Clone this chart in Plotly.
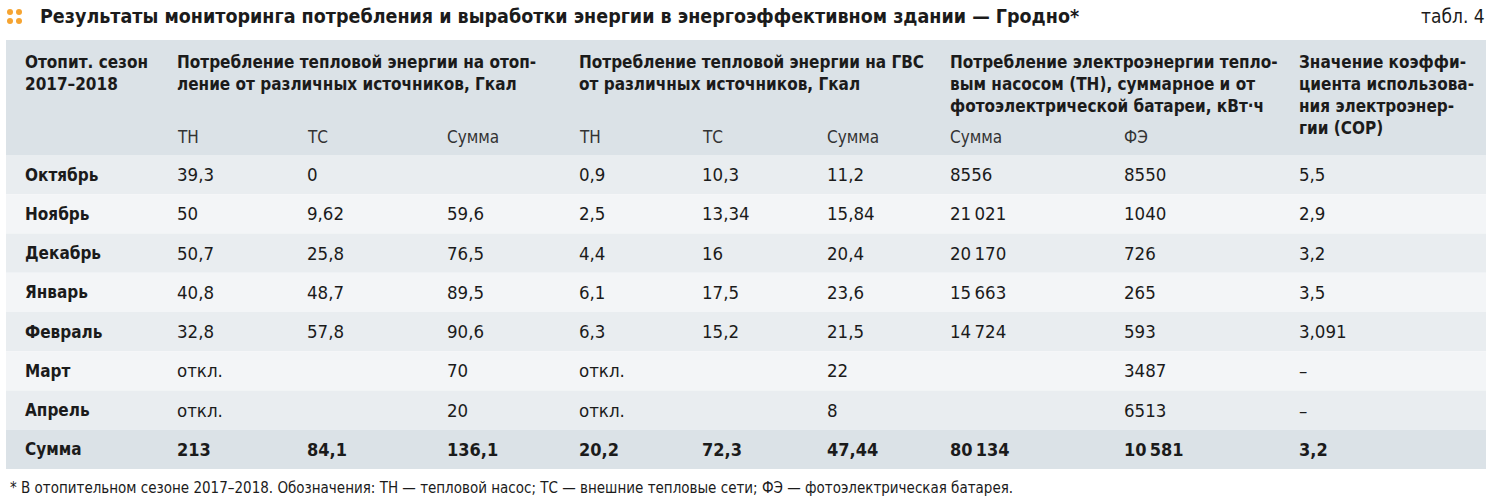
import plotly.graph_objects as go

# ---------------- data ----------------
title = "Результаты мониторинга потребления и выработки энергии в энергоэффективном здании — Гродно*"
table_no = "табл. 4"
footnote = ("* В отопительном сезоне 2017–2018. Обозначения: ТН — тепловой насос; "
            "ТС — внешние тепловые сети; ФЭ — фотоэлектрическая батарея.")

group_headers = [
    "Отопит. сезон<br>2017–2018",
    "Потребление тепловой энергии на отоп-<br>ление от различных источников, Гкал",
    "Потребление тепловой энергии на ГВС<br>от различных источников, Гкал",
    "Потребление электроэнергии тепло-<br>вым насосом (ТН), суммарное и от<br>фотоэлектрической батареи, кВт·ч",
    "Значение коэффи-<br>циента использова-<br>ния электроэнер-<br>гии (COP)",
]
sub_headers = ["", "ТН", "ТС", "Сумма", "ТН", "ТС", "Сумма", "Сумма", "ФЭ", ""]

months = ["Октябрь", "Ноябрь", "Декабрь", "Январь", "Февраль", "Март", "Апрель"]
heat_tn = ["39,3", "50", "50,7", "40,8", "32,8", "откл.", "откл."]
heat_ts = ["0", "9,62", "25,8", "48,7", "57,8", "", ""]
heat_sum = ["", "59,6", "76,5", "89,5", "90,6", "70", "20"]
dhw_tn = ["0,9", "2,5", "4,4", "6,1", "6,3", "откл.", "откл."]
dhw_ts = ["10,3", "13,34", "16", "17,5", "15,2", "", ""]
dhw_sum = ["11,2", "15,84", "20,4", "23,6", "21,5", "22", "8"]
el_sum = ["8556", "21\u2009021", "20\u2009170", "15\u2009663", "14\u2009724", "", ""]
el_pv = ["8550", "1040", "726", "265", "593", "3487", "6513"]
cop = ["5,5", "2,9", "3,2", "3,5", "3,091", "–", "–"]
totals = ["Сумма", "213", "84,1", "136,1", "20,2", "72,3", "47,44", "80\u2009134", "10\u2009581", "3,2"]

# ---------------- layout constants ----------------
W, H = 1492, 503
FONT = "DejaVu Sans Condensed, Liberation Sans Narrow, Roboto, sans-serif"
INK = "#1b1b1b"
HEAD_BG = "#dbe2e7"
ODD_BG = "#e9edf0"
EVEN_BG = "#f3f5f7"
ORANGE = "#f6a431"

col_x = [23, 175, 305, 445, 577, 700, 825, 948, 1122, 1297]
group_x = [23, 175, 577, 948, 1297]
tbl_left, tbl_right = 6, 1486
head_top, head_bot = 40, 155
row_h = 39.25

columns = [months, heat_tn, heat_ts, heat_sum, dhw_tn, dhw_ts, dhw_sum, el_sum, el_pv, cop]

fig = go.Figure()
shapes = []
ann = []

# header band
shapes.append(dict(type="rect", x0=tbl_left, x1=tbl_right, y0=head_top, y1=head_bot,
                   fillcolor=HEAD_BG, line_width=0, layer="below"))
# body rows + totals row
n = len(months)
for i in range(n + 1):
    y0 = head_bot + i * row_h
    if i == n:
        color = HEAD_BG
    else:
        color = ODD_BG if i % 2 == 0 else EVEN_BG
    shapes.append(dict(type="rect", x0=tbl_left, x1=tbl_right, y0=y0, y1=y0 + row_h,
                       fillcolor=color, line_width=0, layer="below"))

# title icon (2x2 dots)
for dx in (0, 9):
    for dy in (0, 9):
        shapes.append(dict(type="circle", x0=7 + dx, x1=13 + dx, y0=9 + dy, y1=15 + dy,
                           fillcolor=ORANGE, line_width=0))

ann.append(dict(x=38, y=16, text="<b>" + title + "</b>", xanchor="left", yanchor="middle",
                font=dict(size=19.5, color=INK)))
ann.append(dict(x=1487, y=16, text=table_no, xanchor="right", yanchor="middle",
                font=dict(size=19, color=INK)))

# group headers
for gx, txt in zip(group_x, group_headers):
    ann.append(dict(x=gx, y=50, text="<b>" + txt + "</b>", xanchor="left", yanchor="top",
                    align="left", font=dict(size=17, color=INK)))
# sub headers
for cx, txt in zip(col_x, sub_headers):
    if txt:
        ann.append(dict(x=cx, y=137, text=txt, xanchor="left", yanchor="middle",
                        font=dict(size=17, color="#333333")))

# body cells
for i in range(n):
    yc = head_bot + (i + 0.5) * row_h
    for j, col in enumerate(columns):
        txt = col[i]
        if not txt:
            continue
        if j == 0:
            ann.append(dict(x=col_x[j], y=yc, text="<b>" + txt + "</b>", xanchor="left",
                            yanchor="middle", font=dict(size=17, color=INK)))
        else:
            ann.append(dict(x=col_x[j], y=yc, text=txt, xanchor="left", yanchor="middle",
                            font=dict(size=18.5, color=INK)))

# totals row
yc = head_bot + (n + 0.5) * row_h
for j, txt in enumerate(totals):
    ann.append(dict(x=col_x[j], y=yc, text="<b>" + txt + "</b>", xanchor="left", yanchor="middle",
                    font=dict(size=18 if j else 17, color=INK)))

ann.append(dict(x=8, y=488, text=footnote, xanchor="left", yanchor="middle",
                font=dict(size=15, color=INK)))

for a in ann:
    a.update(xref="x", yref="y", showarrow=False)

fig.update_layout(
    width=W, height=H,
    margin=dict(l=0, r=0, t=0, b=0),
    paper_bgcolor="white", plot_bgcolor="white",
    font=dict(family=FONT),
    shapes=shapes, annotations=ann,
    xaxis=dict(range=[0, W], visible=False, fixedrange=True),
    yaxis=dict(range=[H, 0], visible=False, fixedrange=True),
    showlegend=False,
)

fig.write_html("out.html", config={"displayModeBar": False},
               post_script="document.body.style.margin='0';")
